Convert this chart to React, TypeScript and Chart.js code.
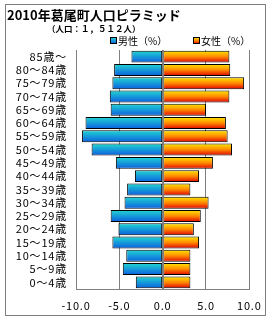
import { useEffect, useRef } from "react";
import { Chart, registerables } from "chart.js";

Chart.register(...registerables);

const ageGroups = [
  "85歳～", "80～84歳", "75～79歳", "70～74歳", "65～69歳", "60～64歳",
  "55～59歳", "50～54歳", "45～49歳", "40～44歳", "35～39歳", "30～34歳",
  "25～29歳", "20～24歳", "15～19歳", "10～14歳", "5～9歳", "0～4歳",
];
const malePct = [3.6, 5.6, 5.8, 6.1, 6.0, 8.9, 9.3, 8.2, 5.4, 3.2, 4.1, 4.4, 6.0, 5.1, 5.8, 4.2, 4.6, 3.1];
const femalePct = [7.7, 7.8, 9.4, 7.7, 5.0, 7.3, 7.5, 8.0, 5.8, 4.2, 3.2, 5.3, 4.4, 3.6, 4.2, 3.2, 3.2, 3.2];
const xMin = -10;
const xMax = 10;
const xStep = 5;
const titleText = "2010年葛尾町人口ピラミッド";
const subtitleText = "（人口：１，５１２人）";
const maleLabel = "男性（%）";
const femaleLabel = "女性（%）";

const FONT = '"Noto Sans CJK JP", "Noto Sans", sans-serif';
const MALE_STOPS: [number, string][] = [[0, "#22D6D2"], [1, "#0A5EE0"]];
const FEMALE_STOPS: [number, string][] = [[0, "#FFE800"], [0.5, "#FF8A00"], [1, "#E00000"]];
const BAR_PCT = 0.9;

function barGradient(ctx: any, stops: [number, string][]) {
  const chart = ctx.chart;
  const y = chart.scales && chart.scales.y;
  if (!y || ctx.dataIndex === undefined || !chart.chartArea) return stops[0][1];
  const c = y.getPixelForValue(ctx.dataIndex);
  const h = ((y.height / ageGroups.length) * BAR_PCT) / 2;
  const g = chart.ctx.createLinearGradient(0, c - h, 0, c + h);
  stops.forEach(([o, col]) => g.addColorStop(o, col));
  return g;
}

function legendBox(c: CanvasRenderingContext2D, x: number, y: number, stops: [number, string][]) {
  const s = 7;
  const g = c.createLinearGradient(0, y, 0, y + s);
  stops.forEach(([o, col]) => g.addColorStop(o, col));
  c.fillStyle = g;
  c.fillRect(x, y, s, s);
  c.strokeStyle = "#000";
  c.lineWidth = 1;
  c.strokeRect(x + 0.5, y + 0.5, s - 1, s - 1);
}

const decorPlugin = {
  id: "decor",
  beforeDraw(chart: any) {
    (chart.ctx as any).letterSpacing = "0.8px";
  },
  afterDatasetsDraw(chart: any) {
    const c = chart.ctx as CanvasRenderingContext2D;
    const x0 = Math.round(chart.scales.x.getPixelForValue(0)) + 0.5;
    c.save();
    c.strokeStyle = "#808080";
    c.lineWidth = 1;
    c.beginPath();
    c.moveTo(x0, chart.chartArea.top);
    c.lineTo(x0, chart.chartArea.bottom);
    c.stroke();
    c.restore();
  },
  afterDraw(chart: any) {
    const c = chart.ctx as CanvasRenderingContext2D;
    c.save();
    (c as any).letterSpacing = "0px";
    c.strokeStyle = "#808080";
    c.lineWidth = 1;
    c.strokeRect(5.5, 4.5, 260, 311);
    c.fillStyle = "#000";
    c.textBaseline = "middle";
    c.textAlign = "left";
    c.font = `bold 13px ${FONT}`;
    c.fillText(titleText, 7, 15);
    c.font = `bold 8.5px ${FONT}`;
    c.fillText(subtitleText, 47, 29);
    c.font = `10px ${FONT}`;
    legendBox(c, 110, 37, MALE_STOPS);
    c.fillStyle = "#000";
    c.fillText(maleLabel, 118, 41);
    legendBox(c, 193, 37, FEMALE_STOPS);
    c.fillStyle = "#000";
    c.fillText(femaleLabel, 201, 41);
    c.restore();
  },
};

export default function App() {
  const ref = useRef<HTMLCanvasElement>(null);
  useEffect(() => {
    document.body.style.margin = "0";
    const chart = new Chart(ref.current!, {
      type: "bar",
      data: {
        labels: ageGroups,
        datasets: [
          {
            label: maleLabel,
            data: malePct.map((v) => -v),
            backgroundColor: (ctx: any) => barGradient(ctx, MALE_STOPS),
            borderColor: "#000",
            borderWidth: 1,
            borderSkipped: false,
            barPercentage: BAR_PCT,
            categoryPercentage: 1,
          },
          {
            label: femaleLabel,
            data: femalePct,
            backgroundColor: (ctx: any) => barGradient(ctx, FEMALE_STOPS),
            borderColor: "#000",
            borderWidth: 1,
            borderSkipped: false,
            barPercentage: BAR_PCT,
            categoryPercentage: 1,
          },
        ],
      },
      options: {
        indexAxis: "y",
        animation: false,
        responsive: false,
        maintainAspectRatio: false,
        events: [],
        layout: { padding: { left: 0, right: 20, top: 50, bottom: 0 } },
        plugins: {
          legend: { display: false },
          title: { display: false },
          tooltip: { enabled: false },
        },
        scales: {
          x: {
            type: "linear",
            min: xMin,
            max: xMax,
            stacked: true,
            ticks: {
              stepSize: xStep,
              callback: (v: any) => Number(v).toFixed(1),
              font: { family: FONT, size: 11 },
              color: "#000",
              padding: 10,
            },
            grid: { color: "#808080", lineWidth: 1, drawTicks: false },
            border: { display: true, color: "#808080" },
            afterFit: (s: any) => { s.height = 31; },
          },
          y: {
            stacked: true,
            ticks: {
              autoSkip: false,
              font: { family: FONT, size: 11 },
              color: "#000",
              padding: 9,
            },
            grid: { display: false, drawTicks: false },
            border: { display: false },
            afterFit: (s: any) => { s.width = 76; },
          },
        },
      },
      plugins: [decorPlugin],
    } as any);
    return () => chart.destroy();
  }, []);
  return (
    <div style={{ width: 270, height: 320, background: "#fff" }}>
      <canvas ref={ref} width={270} height={320} style={{ display: "block" }} />
    </div>
  );
}
